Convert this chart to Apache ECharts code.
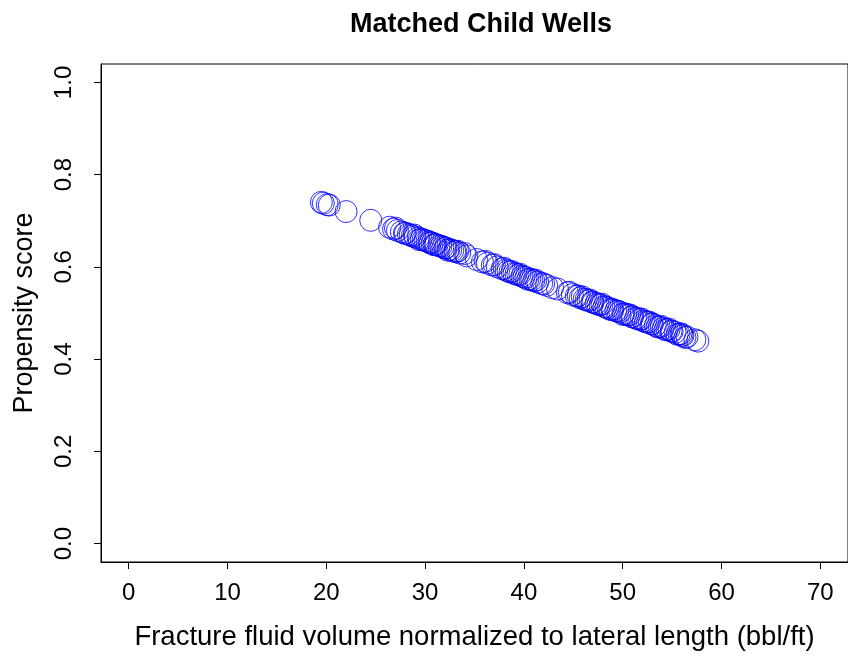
<!DOCTYPE html>
<html>
<head>
<meta charset="utf-8">
<title>Matched Child Wells</title>
<script src="https://cdn.jsdelivr.net/npm/echarts@6/dist/echarts.min.js"></script>
<style>
  html, body { margin: 0; padding: 0; background: #fff; }
  #chart { width: 848px; height: 656px; }
</style>
</head>
<body>
<div id="chart"></div>
<script>
// Fracture fluid volume per lateral foot (bbl/ft) for each matched child well
const fluidVolume = [
  19.5, 19.7, 20.1, 20.3, 22.0, 24.5, 26.4, 26.8, 27.2, 27.6,
  28.0, 28.3, 28.5, 28.7, 29.0, 29.3, 29.6, 29.8, 30.0, 30.2,
  30.4, 30.7, 31.0, 31.1, 31.4, 31.8, 32.0, 32.1, 32.4, 32.6,
  32.8, 33.0, 33.1, 33.5, 34.2, 35.2, 35.8, 36.3, 36.8, 37.3,
  37.8, 38.2, 38.4, 38.6, 39.0, 39.2, 39.4, 39.8, 40.0, 40.2,
  40.6, 40.8, 41.0, 41.4, 41.8, 42.3, 42.9, 43.4, 44.4, 44.9,
  45.3, 45.7, 46.1, 46.3, 46.5, 46.9, 47.0, 47.3, 47.7, 48.1,
  48.3, 48.5, 48.9, 49.0, 49.3, 49.7, 50.1, 50.3, 50.5, 50.9,
  51.0, 51.3, 51.7, 52.1, 52.3, 52.5, 52.9, 53.0, 53.3, 53.7,
  54.1, 54.5, 54.9, 55.0, 55.3, 55.7, 56.0, 56.1, 56.5, 57.3,
  57.6,
  27.0, 27.9, 28.9, 29.4, 30.5, 30.9, 31.6, 32.3, 33.3, 34.0,
  36.1, 37.0, 38.0, 38.8, 39.6, 40.4, 41.2, 42.0, 44.6, 45.5,
  45.9, 46.7, 47.5, 47.9, 48.7, 49.5, 50.0, 50.7, 51.5, 51.9,
  52.7, 53.5, 53.9, 54.3, 54.7, 55.5, 55.9, 56.3
];

// Estimated propensity score of each well (same order as above)
const propensityScore = [
  0.740, 0.738, 0.735, 0.734, 0.720, 0.701, 0.686, 0.682, 0.679, 0.676,
  0.673, 0.671, 0.669, 0.667, 0.665, 0.663, 0.660, 0.659, 0.657, 0.656,
  0.654, 0.652, 0.649, 0.648, 0.646, 0.643, 0.641, 0.641, 0.638, 0.637,
  0.635, 0.634, 0.633, 0.630, 0.624, 0.616, 0.611, 0.608, 0.604, 0.600,
  0.596, 0.593, 0.591, 0.589, 0.586, 0.585, 0.583, 0.580, 0.578, 0.577,
  0.574, 0.572, 0.570, 0.567, 0.564, 0.560, 0.555, 0.552, 0.544, 0.540,
  0.537, 0.533, 0.530, 0.529, 0.527, 0.524, 0.523, 0.521, 0.518, 0.514,
  0.513, 0.511, 0.508, 0.507, 0.505, 0.502, 0.499, 0.497, 0.496, 0.492,
  0.492, 0.489, 0.486, 0.483, 0.481, 0.480, 0.477, 0.476, 0.473, 0.470,
  0.467, 0.464, 0.461, 0.460, 0.458, 0.454, 0.452, 0.451, 0.448, 0.442,
  0.439,
  0.684, 0.673, 0.669, 0.659, 0.652, 0.648, 0.645, 0.636, 0.634, 0.629,
  0.612, 0.605, 0.597, 0.590, 0.584, 0.573, 0.571, 0.563, 0.545, 0.537,
  0.535, 0.528, 0.519, 0.519, 0.508, 0.504, 0.497, 0.496, 0.488, 0.487,
  0.480, 0.470, 0.471, 0.464, 0.465, 0.454, 0.455, 0.447
];

// Tick positions
const xTicks = [0, 10, 20, 30, 40, 50, 60, 70];
const yTicks = [0, 0.2, 0.4, 0.6, 0.8, 1.0];

const points = fluidVolume.map((v, i) => [v, propensityScore[i]]);

const FONT = '"Liberation Sans", Arial, sans-serif';

const chart = echarts.init(document.getElementById('chart'), null, { renderer: 'canvas' });

chart.setOption({
  backgroundColor: '#ffffff',
  animation: false,
  title: {
    text: 'Matched Child Wells',
    left: 476,
    top: 6,
    textAlign: 'center',
    textStyle: { fontFamily: FONT, fontSize: 27, fontWeight: 'bold', color: '#000' }
  },
  grid: {
    left: 101,
    top: 64,
    width: 750,
    height: 498,
    show: true,
    borderColor: '#000',
    borderWidth: 1,
    backgroundColor: 'transparent'
  },
  xAxis: {
    type: 'value',
    min: -2.8,
    max: 72.8,
    name: 'Fracture fluid volume normalized to lateral length (bbl/ft)',
    nameLocation: 'middle',
    nameGap: 61,
    nameTextStyle: { fontFamily: FONT, fontSize: 27.5, color: '#000' },
    axisLine: { show: true, onZero: false, lineStyle: { color: '#000', width: 1 } },
    axisTick: { show: true, length: 7, customValues: xTicks, lineStyle: { color: '#000' } },
    axisLabel: { customValues: xTicks, fontFamily: FONT, fontSize: 24, color: '#000', margin: 19 },
    splitLine: { show: false }
  },
  yAxis: {
    type: 'value',
    min: -0.04,
    max: 1.04,
    name: 'Propensity score',
    nameLocation: 'middle',
    nameGap: 63,
    nameTextStyle: { fontFamily: FONT, fontSize: 27, color: '#000' },
    axisLine: { show: true, onZero: false, lineStyle: { color: '#000', width: 1 } },
    axisTick: { show: true, length: 7, customValues: yTicks, lineStyle: { color: '#000' } },
    axisLabel: {
      customValues: yTicks,
      rotate: 90,
      fontFamily: FONT,
      fontSize: 24,
      color: '#000',
      margin: 25,
      formatter: v => v.toFixed(1)
    },
    splitLine: { show: false }
  },
  series: [{
    type: 'scatter',
    data: points,
    symbol: 'circle',
    symbolSize: 22,
    itemStyle: { color: 'transparent', borderColor: '#0000ff', borderWidth: 1 },
    emphasis: { disabled: true }
  }]
});
</script>
</body>
</html>
